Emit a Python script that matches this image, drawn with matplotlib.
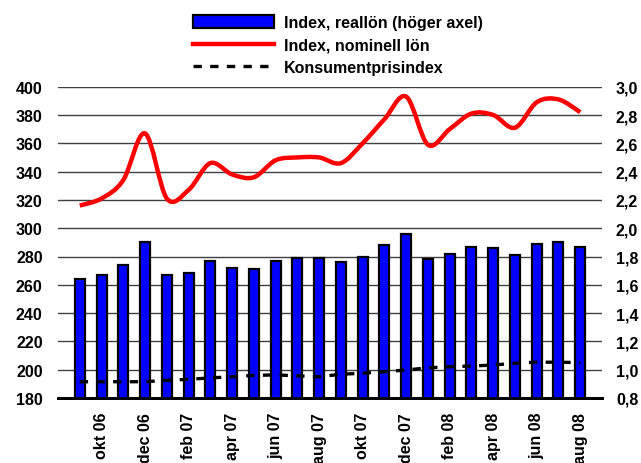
import matplotlib
matplotlib.use('Agg')
import matplotlib.pyplot as plt
import numpy as np
from matplotlib.path import Path
from matplotlib.patches import PathPatch, Patch
from matplotlib.lines import Line2D

plt.rcParams['font.family'] = ['Liberation Sans', 'DejaVu Sans']
plt.rcParams['font.weight'] = 'bold'
plt.rcParams['font.size'] = 11.5

# sep 06 .. aug 08
months = ['sep 06', 'okt 06', 'nov 06', 'dec 06', 'jan 07', 'feb 07', 'mar 07', 'apr 07',
          'maj 07', 'jun 07', 'jul 07', 'aug 07', 'sep 07', 'okt 07', 'nov 07', 'dec 07',
          'jan 08', 'feb 08', 'mar 08', 'apr 08', 'maj 08', 'jun 08', 'jul 08', 'aug 08']
# Index, reallön (höger axel)
reallon = [1.64, 1.67, 1.74, 1.90, 1.67, 1.68, 1.77, 1.72, 1.71, 1.77, 1.79, 1.79,
           1.76, 1.80, 1.88, 1.96, 1.78, 1.82, 1.87, 1.86, 1.81, 1.89, 1.90, 1.87]
# Index, nominell lön (vänster axel)
nominell = [316, 321, 334, 367, 321, 327, 346, 338, 336, 348, 350, 350,
            346, 360, 377, 393, 359, 370, 381, 380, 371, 389, 391, 382]
# Konsumentprisindex (vänster axel)
kpi = [191.5, 191.5, 191.5, 191.5, 192.5, 193.2, 194.2, 195.0, 196.0, 196.3, 195.7, 195.0,
       196.8, 197.5, 198.6, 199.8, 201.3, 202.1, 202.6, 203.3, 204.6, 205.3, 205.3, 205.0]

left_ticks = np.arange(180, 401, 20)
right_ticks = np.round(np.arange(0.8, 3.01, 0.2), 1)


def smooth_path(xs, ys):
    # excel-like smoothed line, cubic bezier through every point
    pts = np.column_stack([xs, ys]).astype(float)
    n = len(pts)
    verts = [pts[0]]
    codes = [Path.MOVETO]
    for i in range(n - 1):
        p0 = pts[max(i - 1, 0)]
        p1 = pts[i]
        p2 = pts[i + 1]
        p3 = pts[min(i + 2, n - 1)]
        verts += [p1 + (p2 - p0) / 6, p2 - (p3 - p1) / 6, p2]
        codes += [Path.CURVE4] * 3
    return Path(verts, codes)


fig = plt.figure(figsize=(6.41, 4.64), dpi=100)
ax = fig.add_axes([58 / 641, 1 - 399 / 464, 544 / 641, (399 - 87.7) / 464])
ax2 = ax.twinx()

x = np.arange(len(months))

# bars on the right axis, behind the lines
ax2.bar(x, reallon, width=0.46, color='#0000ff', edgecolor='black', linewidth=1.6, zorder=3)
ax2.set_ylim(0.8, 3.0)
ax2.set_yticks(right_ticks)
ax2.set_yticklabels([f'{v:.1f}'.replace('.', ',') for v in right_ticks])
ax2.yaxis.grid(True, color='#404040', linewidth=1)
ax2.set_axisbelow(True)

# lines on the left axis, drawn on top
ax.set_zorder(ax2.get_zorder() + 1)
ax.patch.set_visible(False)
ax.add_patch(PathPatch(smooth_path(x, nominell), fill=False, edgecolor='#ff0000',
                       linewidth=3.2, capstyle='butt'))
ax.plot(x, kpi, color='black', linewidth=2.4, linestyle=(0, (2.5, 2.5)))
ax.set_ylim(180, 400)
ax.set_yticks(left_ticks)
ax.set_xlim(-1, 24)

ax.set_xticks(x[1::2])
ax.set_xticklabels(months[1::2], rotation=90, va='top', ha='center')
ax2.set_xticks(x[1::2])

for a in (ax, ax2):
    for s in ['top', 'left', 'right']:
        a.spines[s].set_visible(False)
    a.spines['bottom'].set_linewidth(2.0)
    a.spines['bottom'].set_color('black')
ax.tick_params(axis='x', length=0, pad=10)
ax.tick_params(axis='y', length=0, pad=11)
ax2.tick_params(axis='y', length=0, pad=10)

handles = [Patch(facecolor='#0000ff', edgecolor='black', linewidth=1.6),
           Line2D([], [], color='#ff0000', linewidth=3.2),
           Line2D([], [], color='black', linewidth=2.4, linestyle=(0, (2.5, 2.5)))]
labels = ['Index, reallön (höger axel)', 'Index, nominell lön', 'Konsumentprisindex']
fig.legend(handles, labels, loc='upper left', bbox_to_anchor=(193 / 641, 1 - 16 / 464),
           frameon=False, handlelength=5.05, handleheight=0.81, handletextpad=0.62,
           labelspacing=0.47, borderpad=0, borderaxespad=0)

fig.savefig('out.png', dpi=100)
